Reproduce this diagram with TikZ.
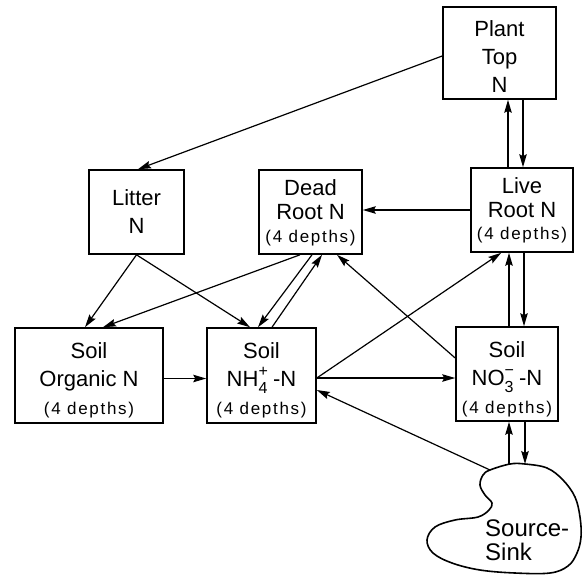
\documentclass[tikz,border=0pt]{standalone}
\usepackage{fontspec}
\setmainfont{Liberation Sans}
\newfontfamily\depthfont[LetterSpace=10]{Liberation Sans}
\usetikzlibrary{arrows.meta}

% charge over subscript, stacked as in hand lettering
\newcommand\ionmark[2]{\makebox[0.66em][l]{\rlap{\raisebox{0.45em}{\fontsize{16}{16}\selectfont #1}}\raisebox{-0.3em}{\fontsize{16}{16}\selectfont #2}}}
\newcommand\depths{{\depthfont\fontsize{17}{17}\selectfont(4 depths)}}

\begin{document}
\begin{tikzpicture}[x=1pt,y=-1pt,
  box/.style={draw,line width=1.6pt,inner sep=0pt},
  lab/.style={align=center,inner sep=0pt,font=\fontsize{22}{28}\selectfont},
  labt/.style={align=center,inner sep=0pt,font=\fontsize{22}{24}\selectfont},
  flow/.style={line width=1.2pt,-{Stealth[length=13pt,width=7.5pt,inset=2pt]}},
]
\useasboundingbox (0,0) rectangle (583,574);

% compartments
\node[box,minimum width=113pt,minimum height=92pt] (top) at (499.5,53) {};
\node[box,minimum width=95pt,minimum height=84pt] (litter) at (136.5,212) {};
\node[box,minimum width=103pt,minimum height=84pt] (dead) at (310.5,212) {};
\node[box,minimum width=102pt,minimum height=84pt] (live) at (522,210) {};
\node[box,minimum width=148pt,minimum height=95pt] (org) at (89,375.5) {};
\node[box,minimum width=109pt,minimum height=95pt] (nh4) at (261.5,375.5) {};
\node[box,minimum width=102pt,minimum height=94pt] (no3) at (507,374) {};

% compartment labels
\node[lab] (topT) at (499.5,57) {Plant\\Top\\N};
\node[lab] (litterT) at (136.5,212) {Litter\\N};
\node[labt] (deadT) at (310.5,213) {Dead\\Root N\\[-1pt]\depths};
\node[labt] (liveT) at (522,210) {Live\\Root N\\[-2pt]\depths};
\node[lab] (orgT) at (89,380.5) {Soil\\Organic N\\\depths};
\node[lab] (nh4T) at (261.5,380.5) {Soil\\NH\ionmark{+}{4}-N\\\depths};
\node[lab] (no3T) at (507,379.5) {Soil\\NO\ionmark{−}{3}-N\\\depths};

% source-sink blob
\draw[line width=1.6pt] plot[smooth cycle, tension=0.6] coordinates {
  (490,470) (510,464) (525,464) (547,468) (563,480) (575,497) (580,517)
  (581,537) (577,553) (568,566) (550,573) (515,573) (480,570) (452,563)
  (433,553) (427,540) (435,527) (455,520) (478,517) (489,510) (492,503)
  (485,495) (480,485) (483,475)};
\node[align=left,inner sep=0pt,anchor=west,font=\fontsize{24}{24}\selectfont] (sink) at (485,540) {Source-\\Sink};
\coordinate (sinkNW) at (490,470);
\coordinate (skA) at (509,464);
\coordinate (skB) at (525,464);

% helper points on the box edges
\coordinate (lvA) at ([xshift=-14pt]live.north);
\coordinate (lvB) at ([xshift=1pt]live.north);
\coordinate (noA) at ([xshift=2pt]no3.north);
\coordinate (noB) at ([xshift=17pt]no3.north);
\coordinate (nhE) at ([yshift=-2.5pt]nh4.east);
\coordinate (orgE) at ([yshift=-3pt]org.east);

% flows
\draw[flow] ([yshift=-3pt]top.west) -- ([xshift=1.5pt]litter.north);
\draw[flow] (lvA) -- (lvA |- top.south);
\draw[flow] (lvB |- top.south) -- (lvB);
\draw[flow] (live.west) -- (live.west -| dead.east);
\draw[flow] (noA) -- (noA |- live.south);
\draw[flow] (noB |- live.south) -- (noB);
\draw[flow] (nhE) -- ([xshift=31pt]live.south west);
\draw[flow] (nhE) -- (nhE -| no3.west);
\draw[flow] ([yshift=16pt]no3.west) -- ([xshift=26.5pt]dead.south);
\draw[flow] (sinkNW) -- ([yshift=-14.5pt]nh4.east);
\draw[flow] (skA) -- (skA |- no3.south);
\draw[flow] (skB |- no3.south) -- (skB);
\draw[flow] (litter.south) -- ([xshift=-4pt]org.north);
\draw[flow] (litter.south) -- ([xshift=-11.5pt]nh4.north);
\draw[flow] ([xshift=-10.5pt]dead.south) -- ([xshift=14pt]org.north);
\draw[flow] ([xshift=1.5pt]dead.south) -- ([xshift=-3.5pt]nh4.north);
\draw[flow] ([xshift=10.5pt]nh4.north) -- ([xshift=11.5pt]dead.south);
\draw[flow] (orgE) -- (orgE -| nh4.west);
\end{tikzpicture}
\end{document}
